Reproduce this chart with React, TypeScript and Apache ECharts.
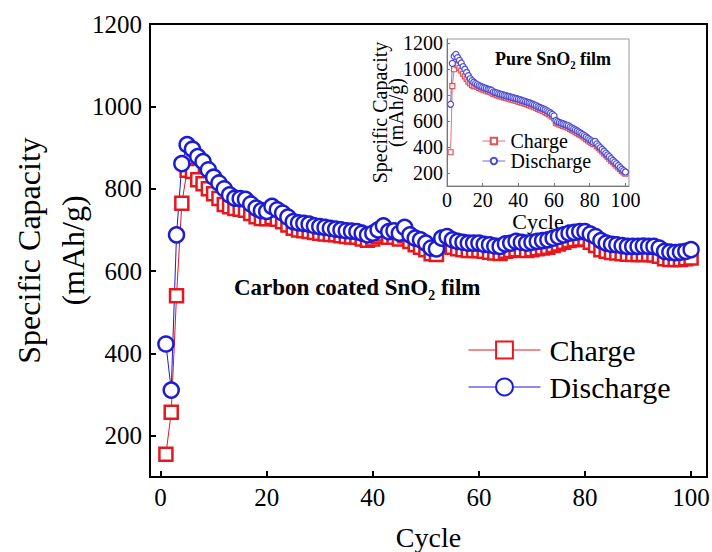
import React, { useEffect, useRef } from "react";
import * as echarts from "echarts";

const FONT = "'Liberation Serif', 'Times New Roman', Times, serif";

// Main chart: carbon coated SnO2 film
const mainCharge = [
  155, 257, 540, 765, 845, 842, 822, 812, 800, 788,
  776, 762, 756, 752, 750, 748, 740, 732, 728, 727,
  730, 726, 720, 712, 704, 700, 698, 696, 694, 692,
  690, 689, 688, 686, 684, 683, 682, 678, 675, 678,
  684, 690, 682, 682, 678, 686, 672, 664, 658, 652,
  642, 640, 660, 664, 658, 654, 652, 650, 650, 650,
  648, 646, 644, 643, 648, 650, 652, 652, 650, 652,
  654, 656, 658, 662, 666, 670, 674, 676, 678, 678,
  670, 662, 652, 648, 645, 644, 642, 641, 640, 640,
  640, 640, 639, 636, 630, 628, 628, 628, 630, 632,
];
const mainDischarge = [
  423, 311, 688, 861, 907, 896, 878, 866, 846, 828,
  814, 800, 785, 777, 776, 774, 763, 753, 747, 745,
  757, 749, 741, 731, 720, 717, 716, 714, 710, 708,
  706, 704, 702, 700, 698, 697, 696, 692, 688, 692,
  700, 710, 696, 698, 692, 706, 688, 680, 676, 668,
  656, 654, 680, 684, 676, 672, 670, 668, 668, 668,
  665, 664, 661, 660, 666, 668, 672, 670, 668, 670,
  672, 674, 676, 680, 684, 688, 692, 694, 696, 696,
  690, 684, 674, 668, 665, 664, 662, 660, 660, 660,
  661, 660, 660, 656, 648, 646, 645, 646, 648, 652,
];

// Inset: pure SnO2 film, cycles 2..100
const insetFirstCycle = 2;
const insetCharge = [
  360, 870, 1000, 1040, 1030, 1010, 990, 965, 945,
  925, 905, 890, 878, 870, 872, 864, 856, 850, 845,
  839, 835, 829, 825, 820, 810, 806, 801, 796, 791,
  787, 783, 779, 775, 771, 767, 763, 759, 755, 751,
  747, 742, 738, 733, 729, 724, 719, 713, 707, 701,
  694, 688, 682, 676, 670, 662, 654, 645, 634, 622,
  588, 580, 574, 569, 564, 559, 554, 549, 540, 532,
  524, 516, 508, 500, 492, 482, 472, 462, 452, 442,
  432, 422, 426, 408, 394, 380, 366, 352, 338, 324,
  310, 296, 283, 270, 257, 244, 230, 217, 205, 196,
];
const insetDischarge = [
  730, 1045, 1100, 1115, 1090, 1068, 1048, 1020, 1000,
  975, 950, 928, 912, 900, 890, 882, 874, 868, 862,
  856, 852, 846, 842, 838, 826, 822, 818, 812, 808,
  804, 800, 796, 792, 789, 785, 781, 777, 773, 769,
  765, 760, 756, 751, 747, 742, 737, 731, 725, 719,
  712, 706, 700, 694, 688, 680, 672, 663, 652, 640,
  605, 596, 590, 585, 580, 575, 570, 565, 556, 548,
  540, 532, 524, 516, 508, 498, 488, 478, 468, 458,
  448, 438, 444, 425, 410, 396, 382, 368, 354, 340,
  326, 312, 298, 285, 272, 258, 244, 230, 218, 208,
];

const xTicks = [0, 20, 40, 60, 80, 100];
const yTicks = [200, 400, 600, 800, 1000, 1200];

const RED = "#e3191f";
const BLUE = "#1c1cd4";
const IRED = "#e0505a";
const IBLUE = "#4b4bd6";

function pairs(vals: number[], first: number) {
  return vals.map((v, i) => [first + i, v]);
}

const plain = (v: number) => String(v);

export default function App() {
  const ref = useRef<HTMLDivElement>(null);
  useEffect(() => {
    if (!ref.current) return;
    const chart = echarts.init(ref.current, undefined, { renderer: "svg" });
    const option: any = {
      animation: false,
      backgroundColor: "#fff",
      textStyle: { fontFamily: FONT, color: "#000" },
      grid: [
        {
          left: 150, right: 5, top: 24, bottom: 75, show: true,
          borderColor: "#000", borderWidth: 2, containLabel: false, outerBoundsMode: "none",
        },
        {
          left: 447, right: 83, top: 39, bottom: 366, show: true,
          borderColor: "#999", borderWidth: 1, containLabel: false, outerBoundsMode: "none",
        },
      ],
      xAxis: [
        {
          gridIndex: 0, type: "value", min: -2, max: 103,
          axisLine: { onZero: false, lineStyle: { color: "#000", width: 2 } },
          axisTick: { inside: true, length: 6, customValues: xTicks, lineStyle: { color: "#000", width: 2 } },
          axisLabel: { customValues: xTicks, formatter: plain, fontSize: 25, color: "#000", margin: 8, fontFamily: FONT },
          splitLine: { show: false },
          name: "Cycle", nameLocation: "middle", nameGap: 46,
          nameTextStyle: { fontSize: 28, color: "#000", fontFamily: FONT },
        },
        {
          gridIndex: 1, type: "value", min: 0, max: 102,
          axisLine: { onZero: false, lineStyle: { color: "#777", width: 1 } },
          axisTick: { inside: true, length: 3, customValues: xTicks, lineStyle: { color: "#777", width: 1 } },
          axisLabel: { customValues: xTicks, formatter: plain, fontSize: 20, color: "#000", margin: 4, fontFamily: FONT },
          splitLine: { show: false },
          name: "Cycle", nameLocation: "middle", nameGap: 21,
          nameTextStyle: { fontSize: 22, color: "#000", fontFamily: FONT },
        },
      ],
      yAxis: [
        {
          gridIndex: 0, type: "value", min: 100, max: 1200,
          axisLine: { onZero: false, lineStyle: { color: "#000", width: 2 } },
          axisTick: { inside: true, length: 6, customValues: yTicks, lineStyle: { color: "#000", width: 2 } },
          axisLabel: { customValues: yTicks, formatter: plain, fontSize: 25, color: "#000", margin: 8, fontFamily: FONT },
          splitLine: { show: false },
          name: "Specific Capacity\n(mAh/g)", nameLocation: "middle", nameGap: 55,
          nameMoveOverlap: false,
          nameTextStyle: { fontSize: 32, lineHeight: 44, color: "#000", fontFamily: FONT },
        },
        {
          gridIndex: 1, type: "value", min: 100, max: 1233,
          axisLine: { onZero: false, lineStyle: { color: "#777", width: 1 } },
          axisTick: { inside: true, length: 3, customValues: yTicks, lineStyle: { color: "#777", width: 1 } },
          axisLabel: { customValues: yTicks, formatter: plain, fontSize: 20, color: "#000", margin: 4, fontFamily: FONT },
          splitLine: { show: false },
          name: "Specific Capacity\n(mAh/g)", nameLocation: "middle", nameGap: 43,
          nameMoveOverlap: false,
          nameTextStyle: { fontSize: 20, lineHeight: 16, color: "#000", fontFamily: FONT },
        },
      ],
      legend: [
        {
          data: ["Charge", "Discharge"], orient: "vertical", left: 468, top: 335, padding: 0,
          itemWidth: 72, itemHeight: 21, itemGap: 7,
          lineStyle: { width: 1 },
          textStyle: { fontSize: 30, color: "#000", fontFamily: FONT, padding: [0, 0, 0, 4] },
          selectedMode: false,
        },
        {
          data: ["Pure Charge", "Pure Discharge"], orient: "vertical", left: 482, top: 131, padding: 0,
          itemWidth: 23, itemHeight: 8, itemGap: 0,
          lineStyle: { width: 0.8 },
          formatter: (n: string) => n.replace("Pure ", ""),
          textStyle: { fontSize: 20, lineHeight: 18, color: "#000", fontFamily: FONT },
          selectedMode: false,
        },
      ],
      series: [
        {
          name: "Charge", type: "line", xAxisIndex: 0, yAxisIndex: 0,
          data: pairs(mainCharge, 1), symbol: "rect", symbolSize: 13,
          lineStyle: { color: RED, width: 1 },
          itemStyle: { color: "#fff", borderColor: RED, borderWidth: 2.5 },
        },
        {
          name: "Discharge", type: "line", xAxisIndex: 0, yAxisIndex: 0,
          data: pairs(mainDischarge, 1), symbol: "circle", symbolSize: 15,
          lineStyle: { color: BLUE, width: 1 },
          itemStyle: { color: "#fff", borderColor: BLUE, borderWidth: 2.5 },
        },
        {
          name: "Pure Charge", type: "line", xAxisIndex: 1, yAxisIndex: 1,
          data: pairs(insetCharge, insetFirstCycle), symbol: "rect", symbolSize: 5,
          lineStyle: { color: IRED, width: 0.8 },
          itemStyle: { color: "#fff", borderColor: IRED, borderWidth: 1.2 },
        },
        {
          name: "Pure Discharge", type: "line", xAxisIndex: 1, yAxisIndex: 1,
          data: pairs(insetDischarge, insetFirstCycle), symbol: "circle", symbolSize: 6,
          lineStyle: { color: IBLUE, width: 0.8 },
          itemStyle: { color: "#fff", borderColor: IBLUE, borderWidth: 1.2 },
        },
      ],
      graphic: [
        {
          type: "text", left: 234, top: 276,
          style: { text: "Carbon coated SnO₂ film", font: `bold 23px ${FONT}`, fill: "#000" },
        },
        {
          type: "text", left: 495, top: 50,
          style: { text: "Pure SnO₂ film", font: `bold 18px ${FONT}`, fill: "#000" },
        },
      ],
    };
    chart.setOption(option);
    return () => chart.dispose();
  }, []);
  return (
    <div
      ref={ref}
      style={{ position: "fixed", left: 0, top: 0, width: 712, height: 552 }}
    />
  );
}
